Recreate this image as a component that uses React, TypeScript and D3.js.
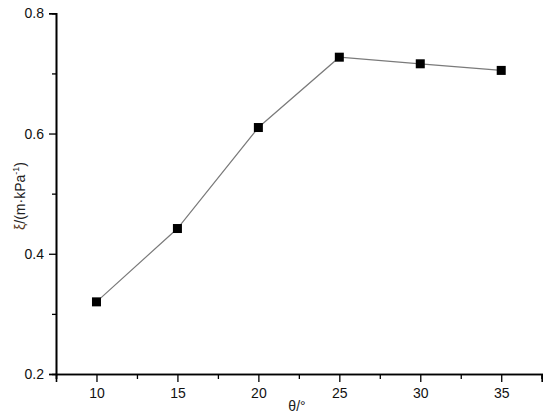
import React, { useEffect, useRef } from 'react';
import * as d3 from 'd3';

// data
const angles = [10, 15, 20, 25, 30, 35];
const xiValues = [0.32, 0.442, 0.61, 0.727, 0.716, 0.705];
const xMajorTicks = [10, 15, 20, 25, 30, 35];
const xMinorTicks = [7.5, 12.5, 17.5, 22.5, 27.5, 32.5, 37.5];
const yMajorTicks = [0.2, 0.4, 0.6, 0.8];
const yMinorTicks = [0.3, 0.5, 0.7];

const width = 550;
const height = 417;
const margin = { top: 13.3, right: 8.3, bottom: 43, left: 56 };
const font = "'Liberation Sans', Arial, sans-serif";

const App = () => {
  const svgRef = useRef<SVGSVGElement>(null);

  useEffect(() => {
    const svg = d3.select(svgRef.current);
    svg.selectAll('*').remove();

    const xScale = d3.scaleLinear().domain([7.5, 37.5]).range([margin.left, width - margin.right]);
    const yScale = d3.scaleLinear().domain([0.2, 0.8]).range([height - margin.bottom, margin.top]);

    // X axis
    const xMinor = d3.axisBottom(xScale).tickValues(xMinorTicks).tickSize(5).tickFormat(() => '');
    const xAxis = d3.axisBottom(xScale).tickValues(xMajorTicks).tickSize(8).tickPadding(6)
      .tickFormat(d3.format('d'));

    const gx = svg.append('g').attr('transform', `translate(0, ${height - margin.bottom})`);
    gx.append('g').call(xMinor);
    gx.append('g').call(xAxis);

    // Y axis
    const yMinor = d3.axisLeft(yScale).tickValues(yMinorTicks).tickSize(4).tickFormat(() => '');
    const yAxis = d3.axisLeft(yScale).tickValues(yMajorTicks).tickSize(7).tickPadding(5)
      .tickFormat(d3.format('.1f'));

    const gy = svg.append('g').attr('transform', `translate(${margin.left}, 0)`);
    gy.append('g').call(yMinor);
    gy.append('g').call(yAxis);

    svg.selectAll('.domain').attr('stroke', '#000').attr('stroke-width', 1.6);
    svg.selectAll('.tick line').attr('stroke', '#000').attr('stroke-width', 1.3);
    svg.selectAll('.tick text')
      .attr('fill', '#111')
      .style('font-family', font)
      .style('font-size', '14px');

    // line
    const pts = angles.map((a, i) => [a, xiValues[i]] as [number, number]);
    const line = d3.line<[number, number]>()
      .x(d => xScale(d[0]))
      .y(d => yScale(d[1]));

    svg.append('path')
      .datum(pts)
      .attr('d', line)
      .attr('fill', 'none')
      .attr('stroke', '#7a7a7a')
      .attr('stroke-width', 1.2);

    const size = 9;
    svg.selectAll('.marker')
      .data(pts)
      .join('rect')
      .attr('class', 'marker')
      .attr('x', d => xScale(d[0]) - size / 2)
      .attr('y', d => yScale(d[1]) - size / 2)
      .attr('width', size)
      .attr('height', size)
      .attr('fill', '#000');

    // axis titles
    svg.append('text')
      .attr('x', 297)
      .attr('y', 411)
      .attr('text-anchor', 'middle')
      .style('font-family', font)
      .style('font-size', '14px')
      .attr('fill', '#222')
      .text('θ/°');

    const yt = svg.append('text')
      .attr('transform', 'translate(25, 196) rotate(-90)')
      .attr('text-anchor', 'middle')
      .style('font-family', font)
      .style('font-size', '14px')
      .attr('fill', '#222');
    yt.append('tspan').attr('fill', '#5a3a20').text('ξ');
    yt.append('tspan').text('/(m·kPa');
    yt.append('tspan').attr('dy', -6).style('font-size', '9px').text('-1');
    yt.append('tspan').attr('dy', 6).text(')');
  }, []);

  return (
    <svg
      ref={svgRef}
      width={width}
      height={height}
      style={{ position: 'absolute', left: 0, top: 0, background: '#fff' }}
    />
  );
};

export default App;
